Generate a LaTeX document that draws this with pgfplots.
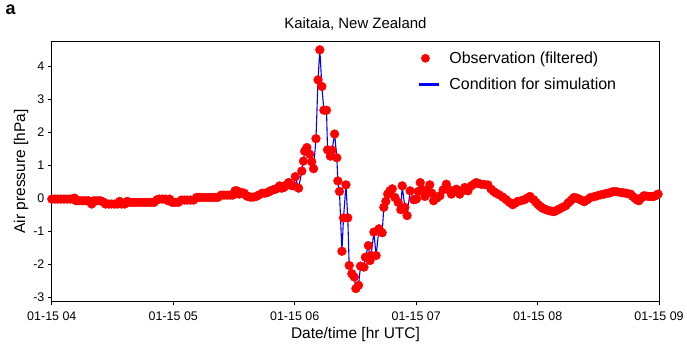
\documentclass[border=0pt]{standalone}
\usepackage{fontspec}
\setmainfont{Liberation Sans}
\usepackage{pgfplots}
\usepackage{pgfplotstable}
\pgfplotsset{compat=1.18}
\pgfplotstableread{
m p
0 -0.03
1.5 -0.03
3 -0.03
4.5 -0.03
6 -0.03
7.5 -0.03
9 -0.03
10.5 -0.03
11.2 0.00
12 -0.08
13.5 -0.08
15 -0.08
16.5 -0.08
18 -0.08
19 -0.12
19.7 -0.18
20.5 -0.10
21 -0.08
22.5 -0.08
24 -0.08
25.5 -0.12
26.5 -0.18
28 -0.18
29.5 -0.18
31 -0.18
32.5 -0.18
33.5 -0.10
34.5 -0.18
36 -0.18
37.3 -0.10
38.5 -0.13
40 -0.13
41.5 -0.13
43 -0.13
44.5 -0.13
46 -0.13
47.5 -0.13
49 -0.13
50.5 -0.13
52 -0.05
53 -0.03
54.5 -0.03
56 -0.03
57.4 -0.08
58.2 -0.03
59.5 -0.13
61 -0.13
62.5 -0.13
64 -0.06
65.5 -0.06
67 -0.06
68.5 -0.06
70 -0.06
71.5 0.02
73 0.02
74.5 0.02
76 0.02
77.5 0.02
79 0.02
80.5 0.02
82 0.02
83.6 0.09
85 0.09
86.5 0.09
88 0.09
89.3 0.09
90.5 0.22
91.5 0.22
92.5 0.12
93.8 0.17
95 0.15
96 0.08
96.7 0.05
98 0.03
99.5 0.03
101 0.05
102.5 0.10
104 0.15
105.5 0.15
107 0.18
108 0.22
109.3 0.25
110.5 0.27
111.5 0.30
112.5 0.37
113.5 0.30
114.6 0.32
115.5 0.38
116.3 0.42
117 0.47
118.3 0.38
119.5 0.37
120.3 0.65
121.9 0.30
123.5 0.82
124.3 1.12
124.9 1.42
126 1.53
127.4 1.33
128.4 1.10
129.3 0.89
130.5 1.80
131.5 3.58
132.4 4.49
133.4 3.38
134.4 2.66
135.7 2.66
136.2 1.46
137.6 1.27
138.4 1.45
139.7 1.94
140.8 1.22
141.3 0.52
142.1 0.20
143.3 -1.61
144.1 -0.60
145.3 0.40
146.2 -0.60
146.9 -2.04
148.2 -2.29
149.4 -2.39
150.2 -2.74
151.5 -2.64
152.5 -2.06
154.2 -2.09
154.9 -1.79
156.4 -1.44
157.2 -1.89
157.7 -1.74
159.1 -1.03
160.2 -1.74
161.6 -0.93
163.2 -1.05
164 -0.28
165 -0.10
165.9 0.12
167 0.22
168.2 0.28
169.5 0.02
171.1 -0.13
172.4 -0.35
173.1 0.37
174.4 -0.28
175.5 -0.53
177 0.22
178.8 -0.05
180.1 -0.03
181 0.20
182 0.47
183.2 0.25
184.3 0.05
185.5 0.22
186.7 0.40
187.7 0.15
188.6 -0.08
190.2 0.00
191.7 0.07
193.3 0.25
194.9 0.42
196.2 0.25
197.4 0.12
198.6 0.20
199.8 0.27
201.5 0.12
203 0.22
204 0.32
205.6 0.22
207.2 0.37
208.5 0.42
209.7 0.47
211 0.44
212.1 0.42
213.7 0.41
215.4 0.40
217 0.27
218.3 0.20
219.5 0.15
221 0.10
222.8 0.03
224.5 -0.05
226.1 -0.13
227.7 -0.20
229 -0.15
230.2 -0.10
231.8 -0.08
233.5 -0.05
234.8 0.00
236.2 0.05
238 -0.05
239.2 -0.13
240.3 -0.20
241.3 -0.25
242.3 -0.30
243.3 -0.33
244.6 -0.36
245.8 -0.38
247 -0.40
248.2 -0.41
249.5 -0.37
250.7 -0.33
252.3 -0.28
253.9 -0.23
255 -0.15
256 -0.10
257 -0.04
258 0.02
259.3 0.00
260.5 -0.03
261.8 -0.07
263 -0.11
264.6 -0.05
266.2 0.02
267.8 0.04
269.5 0.07
271.2 0.10
272.8 0.12
274 0.14
275.3 0.15
276.5 0.18
277.7 0.20
279.3 0.19
281 0.17
282.3 0.16
283.5 0.15
284.7 0.13
285.9 0.12
287 0.05
288 0.00
289 -0.05
290 -0.08
291.2 0.00
292.5 0.07
293.8 0.06
295 0.05
296.2 0.05
297.4 0.05
298.5 0.08
299.5 0.12
}\obs
\begin{document}
\begin{tikzpicture}
\begin{axis}[
  at={(0pt,0pt)}, anchor=south west,
  scale only axis, width=609pt, height=260pt,
  xmin=0, xmax=300, ymin=-3.12, ymax=4.73,
  xtick={0,60,120,180,240,300},
  xticklabels={01-15 04,01-15 05,01-15 06,01-15 07,01-15 08,01-15 09},
  ytick={-3,-2,-1,0,1,2,3,4},
  tick align=outside, tick pos=left,
  major tick length=4pt,
  tick style={black, line width=0.8pt},
  axis line style={black, line width=0.8pt},
  /pgf/number format/assume math mode=true,
  ticklabel style={font=\fontsize{12.5}{14}\selectfont},
  xticklabel style={yshift=-3pt},
  title={Kaitaia, New Zealand},
  title style={font=\fontsize{15}{18}\selectfont, yshift=2pt},
  xlabel={Date/time [hr UTC]},
  ylabel={Air pressure [hPa]},
  label style={font=\fontsize{15.5}{18}\selectfont},
  xlabel style={yshift=0pt},
  ylabel style={yshift=-2pt},
  legend style={at={(0.598,0.978)}, anchor=north west, draw=none, fill=none,
    font=\fontsize{16}{18}\selectfont, row sep=9pt},
  legend cell align=left,
]
\addplot[only marks, mark=*, mark size=4.4pt, color=red, mark options={draw=red, fill=red},
  legend image code/.code={\path[draw=none, fill=none] (0pt,0pt) -- (28pt,0pt); \fill[red, draw=none] (6pt,0pt) circle (4.4pt);}] table[x=m, y=p] {\obs};
\addlegendentry{Observation (filtered)}
\addplot[color=blue, line width=1.1pt, mark=none,
  legend image code/.code={\path[draw=none, fill=none] (0pt,0pt) -- (28pt,0pt); \draw[blue, line width=2.6pt] (0pt,0pt) -- (20pt,0pt);}] table[x=m, y=p] {\obs};
\addlegendentry{Condition for simulation}
\end{axis}
\node[font=\bfseries\fontsize{18}{20}\selectfont, anchor=north west] at (-50pt,301pt) {a};
\path[use as bounding box] (-52pt,-47pt) rectangle (635pt,302pt);
\end{tikzpicture}
\end{document}
